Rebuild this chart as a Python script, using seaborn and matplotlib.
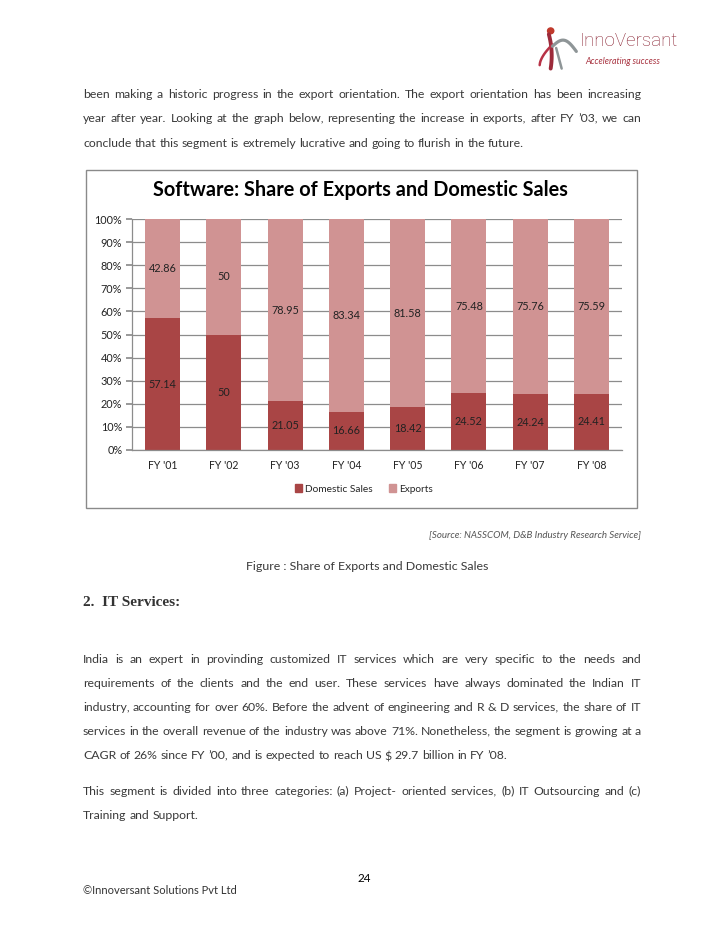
import matplotlib
matplotlib.use("Agg")
import matplotlib.pyplot as plt
import matplotlib.patches as mpatches
from matplotlib.ticker import FuncFormatter
import seaborn as sns
import pandas as pd
import numpy as np

# --- chart data ---
YEARS = ["FY '01", "FY '02", "FY '03", "FY '04", "FY '05", "FY '06", "FY '07", "FY '08"]
DOMESTIC = [57.14, 50, 21.05, 16.66, 18.42, 24.52, 24.24, 24.41]
EXPORTS = [42.86, 50, 78.95, 83.34, 81.58, 75.48, 75.76, 75.59]

DARK = "#A94545"
LIGHT = "#D09393"
TEXT = "#3a3a3a"
GRID = "#8c8c8c"

# --- page text ---
PARA1 = [
    "been making a historic progress in the export orientation. The export orientation has been increasing",
    "year after year. Looking at the graph below, representing the increase in exports, after FY \u201903, we can",
    "conclude that this segment is extremely lucrative and going to flurish in the future.",
]
PARA2 = [
    "India is an expert in provinding customized IT services which are very specific to the needs and",
    "requirements of the clients and the end user. These services have always dominated the Indian IT",
    "industry, accounting for over 60%. Before the advent of engineering and R & D services, the share of IT",
    "services in the overall revenue of the industry was above 71%. Nonetheless, the segment is growing at a",
    "CAGR of 26% since FY \u201900, and is expected to reach US $ 29.7 billion in FY \u201908.",
]
PARA3 = [
    "This segment is divided into three categories: (a) Project- oriented services, (b) IT Outsourcing and (c)",
    "Training and Support.",
]

W, H = 728, 942
sns.set_theme(style="white")
plt.rcParams["font.family"] = ["Lato", "DejaVu Sans"]

fig = plt.figure(figsize=(W / 100, H / 100), dpi=100)
fig.patch.set_facecolor("white")
renderer = fig.canvas.get_renderer()


def fx(px):
    return px / W


def fy(py):
    return 1 - py / H


def measure(s, **kw):
    t = fig.text(0, 0, s, **kw)
    w = t.get_window_extent(renderer).width
    t.remove()
    return w


_shift_cache = {}


def baseline_shift(word, size):
    """Agg can put a lone word a pixel or two off the line (commas, brackets).
    Render it alone and followed by ' p' and compare where the ink starts."""
    key = (word, size)
    if key in _shift_cache:
        return _shift_cache[key]
    tops = []
    for s in (word, word + " p"):
        f = plt.figure(figsize=(5, 0.5), dpi=100)
        f.text(0.02, 0.5, s, va="baseline", ha="left", fontsize=size, color="black")
        f.canvas.draw()
        a = np.asarray(f.canvas.buffer_rgba())[:, :, 0]
        plt.close(f)
        rows = np.where((a < 170).any(axis=1))[0]
        tops.append(rows.min() if len(rows) else 0)
    _shift_cache[key] = tops[0] - tops[1]
    return _shift_cache[key]


def text_line(s, x0, x1, y, justify=True, **kw):
    """One line of body text, one text per word, spread between x0 and x1 when justified."""
    words = s.split()
    widths = [measure(wd, **kw) for wd in words]
    space = measure("x x", **kw) - measure("xx", **kw)
    if justify and len(words) > 1:
        gap = (x1 - x0 - sum(widths)) / (len(words) - 1)
    else:
        gap = space
    x = x0
    for wd, wdt in zip(words, widths):
        dy = baseline_shift(wd, kw["fontsize"])
        fig.text(fx(x), fy(y + 4 - dy), wd, va="baseline", ha="left", **kw)
        x += wdt + gap


BODY = dict(fontsize=8.8, color=TEXT)
X0, X1 = 83, 641

for i, line in enumerate(PARA1):
    text_line(line, X0, X1, 94 + i * 24.5, justify=(i < len(PARA1) - 1), **BODY)
for i, line in enumerate(PARA2):
    text_line(line, X0, X1, 659 + i * 24, justify=(i < len(PARA2) - 1), **BODY)
for i, line in enumerate(PARA3):
    text_line(line, X0, X1, 791 + i * 24, justify=(i < len(PARA3) - 1), **BODY)

# --- logo ---
lax = fig.add_axes([fx(536), fy(72), fx(44), 48 / H])
lax.set_xlim(0, 48)
lax.set_ylim(0, 56)
lax.axis("off")
t = np.linspace(0, 1, 40)
lax.plot(14 + 10 * t - 8 * t ** 2, 44 - 40 * t, color="#9c2a3a", lw=2.8, solid_capstyle="round")
lax.plot(4 + 14 * t, 8 + 24 * t ** 0.6, color="#b83246", lw=1.8, solid_capstyle="round")
lax.plot(18 + 26 * t, 30 + 10 * np.sin(t * np.pi) - 6 * t, color="#8e9597", lw=2.3, solid_capstyle="round")
lax.plot(22 + 6 * t, 28 - 24 * t, color="#8e9597", lw=1.8, solid_capstyle="round")
lax.add_patch(mpatches.Circle((16, 48), 3.4, color="#c0392b"))
fig.text(fx(580), fy(41), "InnoVersant", fontsize=13.5, color="#8a2434",
         family=["Roboto", "DejaVu Sans"], fontweight="light", va="center", ha="left")
fig.text(fx(585), fy(62), "Accelerating success", fontsize=6.3, color="#a8323f",
         style="italic", va="center", ha="left")

# --- chart frame ---
fig.patches.append(mpatches.Rectangle((fx(86), fy(508)), fx(637 - 86), (508 - 170) / H,
                                      transform=fig.transFigure, fill=False,
                                      edgecolor="#8a8a8a", linewidth=1.0))

df = pd.DataFrame({"Year": YEARS, "Domestic": DOMESTIC, "Exports": EXPORTS})
df["Total"] = df["Domestic"] + df["Exports"]

ax = fig.add_axes([fx(132), fy(450), fx(622 - 132), (450 - 219) / H])
sns.barplot(data=df, x="Year", y="Total", color=LIGHT, saturation=1, width=0.57,
            linewidth=0, ax=ax)
sns.barplot(data=df, x="Year", y="Domestic", color=DARK, saturation=1, width=0.57,
            linewidth=0, ax=ax)

for i, (d, e) in enumerate(zip(df["Domestic"], df["Exports"])):
    ax.text(i, d / 2, f"{d:g}", ha="center", va="center", fontsize=7.8, color="#222222")
    ax.text(i, d + e / 2, f"{e:g}", ha="center", va="center", fontsize=7.8, color="#222222")

ax.set_xlim(-0.5, len(YEARS) - 0.5)
ax.set_ylim(0, 100)
ax.set_yticks(range(0, 101, 10))
ax.yaxis.set_major_formatter(FuncFormatter(lambda v, p: f"{v:.0f}%"))
ax.set_axisbelow(True)
ax.grid(axis="y", color=GRID, linewidth=0.9)
ax.grid(axis="x", visible=False)
for s in ["top", "right"]:
    ax.spines[s].set_visible(False)
for s in ["left", "bottom"]:
    ax.spines[s].set_color(GRID)
    ax.spines[s].set_linewidth(0.9)
ax.tick_params(axis="y", length=4, color=GRID, labelsize=7.8, labelcolor="#222222", pad=3, left=True)
ax.tick_params(axis="x", length=0, labelsize=7.6, labelcolor="#222222", pad=7)
ax.set_xlabel("")
ax.set_ylabel("")

fig.text(fx(360), fy(190), "Software: Share of Exports and Domestic Sales", fontsize=14.3,
         fontweight="bold", color="black", ha="center", va="center")

handles = [mpatches.Patch(color=DARK, label="Domestic Sales"),
           mpatches.Patch(color=LIGHT, label="Exports")]
fig.legend(handles=handles, loc="center", bbox_to_anchor=(fx(364), fy(489)), ncol=2,
           frameon=False, fontsize=7.3, handlelength=0.7, handleheight=0.7,
           handletextpad=0.3, columnspacing=1.6)

# --- captions and footer ---
fig.text(fx(641), fy(535), "[Source: NASSCOM, D&B Industry Research Service]", fontsize=7.0,
         style="italic", color="#555555", ha="right", va="center")
fig.text(fx(367), fy(566), "Figure : Share of Exports and Domestic Sales", fontsize=8.9,
         color=TEXT, ha="center", va="center")
fig.text(fx(83), fy(603), "2.  IT Services:", fontsize=11, fontweight="bold",
         family=["Liberation Serif", "DejaVu Serif"], color="#333333", ha="left", va="center")
fig.text(fx(364), fy(878), "24", fontsize=8.5, color="black", ha="center", va="center")
fig.text(fx(83), fy(891), "\u00a9Innoversant Solutions Pvt Ltd", fontsize=8.0, color="#333333",
         ha="left", va="center")

fig.savefig("out.png", dpi=100, facecolor="white")
